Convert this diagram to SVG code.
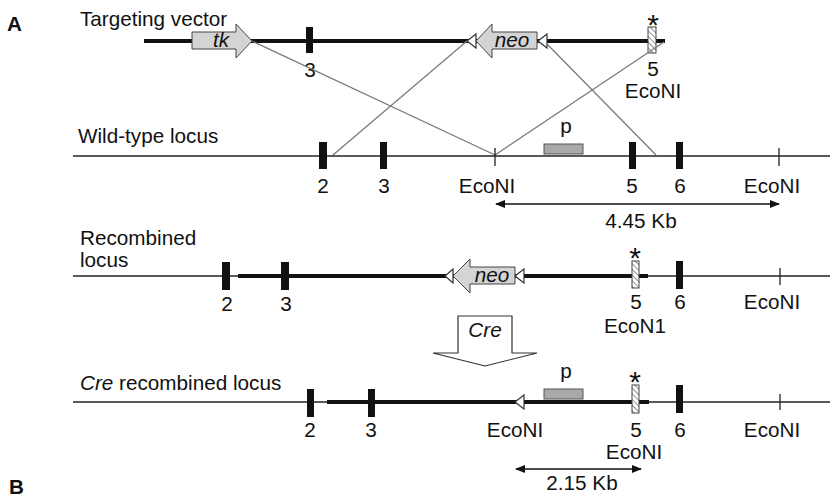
<svg xmlns="http://www.w3.org/2000/svg" width="830" height="498" viewBox="0 0 830 498">
  <style>
    text { font-family: "Liberation Sans", Arial, sans-serif; font-size: 20.7px; fill: #111; }
    .mid { text-anchor: middle; }
    .it { font-style: italic; }
    .bold { font-weight: bold; }
    .star { font-size: 30px; text-anchor: middle; }
    .thin { stroke: #222; stroke-width: 1.3; fill: none; }
    .thick { stroke: #111; stroke-width: 4; fill: none; }
    .exon { fill: #111; }
    .hatch { fill: url(#hatch); stroke: #444; stroke-width: 1; }
    .cass { fill: #d4d4d4; stroke: #444; stroke-width: 1; }
    .lox { fill: #fff; stroke: #333; stroke-width: 1.2; }
    .probe { fill: #a9a9a9; stroke: #555; stroke-width: 1; }
    .cross { stroke: #7a7a7a; stroke-width: 1.3; fill: none; }
    .tick { stroke: #222; stroke-width: 1.3; }
    .span { stroke: #111; stroke-width: 1.6; fill: none; marker-start: url(#head); marker-end: url(#head); }
  </style>
  <defs>
    <pattern id="hatch" patternUnits="userSpaceOnUse" width="4" height="4" patternTransform="rotate(-45)">
      <rect width="4" height="4" fill="#fff"/>
      <line x1="0" y1="0" x2="0" y2="4" stroke="#777" stroke-width="1.6"/>
    </pattern>
    <marker id="head" viewBox="0 0 10 8" refX="9" refY="4" markerWidth="10" markerHeight="8" markerUnits="userSpaceOnUse" orient="auto-start-reverse">
      <path d="M0,0 L10,4 L0,8 Z" fill="#111"/>
    </marker>
  </defs>

  <text class="bold" x="7" y="31" font-size="20">A</text>
  <text class="bold" x="9" y="494" font-size="20">B</text>

  <!-- Targeting vector -->
  <g id="vector">
    <text x="80" y="26">Targeting vector</text>
    <line class="thick" x1="144" y1="41" x2="665" y2="41"/>
    <polygon class="cass" points="192,32 236,32 236,24 252,41 236,58 236,49 192,49"/>
    <text class="mid it" x="221" y="47">tk</text>
    <rect class="exon" x="306" y="27" width="7" height="26"/>
    <text class="mid" x="310" y="77">3</text>
    <polygon class="lox" points="467,41 476,34 476,48"/>
    <polygon class="cass" points="476,41 492,24 492,32 537,32 537,49 492,49 492,58"/>
    <text class="mid it" x="512" y="47">neo</text>
    <polygon class="lox" points="538,41 547,34 547,48"/>
    <rect class="hatch" x="648" y="27" width="8" height="26"/>
    <text class="star" x="653" y="35">*</text>
    <text class="mid" x="653" y="76">5</text>
    <text class="mid" x="653" y="98">EcoNI</text>
  </g>

  <!-- Homology crossover lines -->
  <g id="connectors">
    <line class="cross" x1="252" y1="41" x2="495" y2="155"/>
    <line class="cross" x1="467" y1="41" x2="333" y2="155"/>
    <line class="cross" x1="547" y1="44" x2="656" y2="155"/>
    <line class="cross" x1="664" y1="42" x2="495" y2="155"/>
  </g>

  <!-- Wild-type locus -->
  <g id="wildtype">
    <text x="78" y="143">Wild-type locus</text>
    <line class="thin" x1="73" y1="156" x2="830" y2="156"/>
    <rect class="exon" x="319" y="142" width="8" height="27"/>
    <rect class="exon" x="380" y="142" width="7" height="27"/>
    <rect class="exon" x="629" y="142" width="7" height="27"/>
    <rect class="exon" x="676" y="142" width="7" height="27"/>
    <line class="tick" x1="495" y1="148" x2="495" y2="166"/>
    <line class="tick" x1="779" y1="148" x2="779" y2="166"/>
    <rect class="probe" x="544" y="144" width="39" height="10"/>
    <text class="mid" x="566" y="133">p</text>
    <text class="mid" x="323" y="193">2</text>
    <text class="mid" x="384" y="193">3</text>
    <text class="mid" x="487" y="193">EcoNI</text>
    <text class="mid" x="632" y="193">5</text>
    <text class="mid" x="680" y="193">6</text>
    <text class="mid" x="772" y="193">EcoNI</text>
    <line class="span" x1="496" y1="204" x2="779" y2="204"/>
    <text class="mid" x="641" y="228">4.45 Kb</text>
  </g>

  <!-- Recombined locus -->
  <g id="recombined">
    <text x="80" y="245">Recombined</text>
    <text x="80" y="267">locus</text>
    <line class="thin" x1="73" y1="276" x2="830" y2="276"/>
    <line class="thick" x1="238" y1="276" x2="648" y2="276"/>
    <rect class="exon" x="222" y="262" width="8" height="28"/>
    <rect class="exon" x="281" y="262" width="8" height="28"/>
    <polygon class="lox" points="445,276 453,269 453,283"/>
    <polygon class="cass" points="453,276 470,259 470,267 515,267 515,284 470,284 470,293"/>
    <text class="mid it" x="492" y="282">neo</text>
    <polygon class="lox" points="515,276 524,269 524,283"/>
    <rect class="hatch" x="632" y="261" width="7" height="27"/>
    <text class="star" x="635" y="268">*</text>
    <rect class="exon" x="676" y="261" width="7" height="28"/>
    <line class="tick" x1="780" y1="268" x2="780" y2="285"/>
    <text class="mid" x="227" y="311">2</text>
    <text class="mid" x="286" y="311">3</text>
    <text class="mid" x="636" y="309">5</text>
    <text class="mid" x="680" y="309">6</text>
    <text class="mid" x="772" y="309">EcoNI</text>
    <text class="mid" x="635" y="333">EcoN1</text>
  </g>

  <!-- Cre excision step -->
  <g id="cre">
    <polygon points="458,316 512,316 512,353 537,353 485,366 433,353 458,353" fill="#fff" stroke="#333" stroke-width="1.2"/>
    <text class="mid it" x="485" y="337">Cre</text>
  </g>

  <!-- Cre recombined locus -->
  <g id="cre-recombined">
    <text x="80" y="390"><tspan class="it">Cre</tspan> recombined locus</text>
    <line class="thin" x1="73" y1="402" x2="830" y2="402"/>
    <line class="thick" x1="327" y1="402" x2="649" y2="402"/>
    <rect class="exon" x="307" y="389" width="7" height="28"/>
    <rect class="exon" x="368" y="389" width="7" height="28"/>
    <polygon class="lox" points="515,402 524,395 524,409"/>
    <rect class="probe" x="544" y="389" width="39" height="10"/>
    <text class="mid" x="566" y="378">p</text>
    <rect class="hatch" x="632" y="385" width="7" height="28"/>
    <text class="star" x="635" y="392">*</text>
    <rect class="exon" x="676" y="385" width="7" height="28"/>
    <line class="tick" x1="780" y1="394" x2="780" y2="410"/>
    <text class="mid" x="310" y="437">2</text>
    <text class="mid" x="371" y="437">3</text>
    <text class="mid" x="515" y="437">EcoNI</text>
    <text class="mid" x="636" y="437">5</text>
    <text class="mid" x="680" y="437">6</text>
    <text class="mid" x="772" y="437">EcoNI</text>
    <text class="mid" x="634" y="459">EcoNI</text>
    <line class="span" x1="516" y1="469" x2="641" y2="469"/>
    <text class="mid" x="582" y="490">2.15 Kb</text>
  </g>
</svg>
